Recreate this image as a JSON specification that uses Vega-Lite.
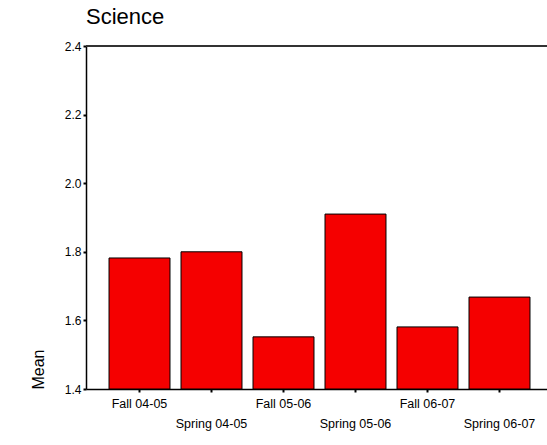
{
  "$schema": "https://vega.github.io/schema/vega-lite/v6.json",
  "autosize": "none",
  "padding": {"left": 86, "top": 46, "right": 0, "bottom": 56},
  "width": 461,
  "height": 343,
  "title": {"text": "Science", "anchor": "start", "frame": "group", "font": "Liberation Sans", "fontSize": 22, "fontWeight": "normal", "color": "black", "baseline": "bottom", "offset": 17, "dy": 28},
  "config": {"view": {"stroke": null}},
  "data": {"values": [
    {"term": "Fall 04-05", "mean": 1.782},
    {"term": "Spring 04-05", "mean": 1.8},
    {"term": "Fall 05-06", "mean": 1.552},
    {"term": "Spring 05-06", "mean": 1.91},
    {"term": "Fall 06-07", "mean": 1.581},
    {"term": "Spring 06-07", "mean": 1.668}
  ]},
  "layer": [
    {
      "mark": {"type": "bar", "fill": "#f50000", "stroke": "black", "strokeWidth": 1},
      "encoding": {
        "x": {"field": "term", "type": "nominal", "sort": null,
          "scale": {"paddingInner": 0.153, "paddingOuter": 0.278, "align": 0.575},
          "axis": {"title": null, "labelAngle": 0, "labelFont": "Liberation Sans", "labelFontSize": 12.5, "labelColor": "black",
            "labelPadding": {"condition": {"test": "indexof(datum.value, 'Spring') == 0", "value": 25}, "value": 5},
            "domainColor": "black", "domainWidth": 1.5, "tickColor": "black", "tickSize": 3, "tickWidth": 2}},
        "y": {"field": "mean", "type": "quantitative",
          "scale": {"domain": [1.4, 2.4], "nice": false, "zero": false},
          "axis": {"title": "Mean", "values": [1.4, 1.6, 1.8, 2.0, 2.2, 2.4], "format": ".1f", "grid": false,
            "labelFont": "Liberation Sans", "labelFontSize": 12, "labelColor": "black", "labelPadding": 2,
            "domainColor": "black", "domainWidth": 1.5, "tickColor": "black", "tickSize": 3, "tickWidth": 2,
            "titleFont": "Liberation Sans", "titleFontSize": 16, "titleFontWeight": "normal", "titleColor": "black",
            "titleAngle": -90, "titleAlign": "left", "titleBaseline": "alphabetic", "titleX": -43, "titleY": 343}},
        "y2": {"datum": 1.4}
      }
    },
    {
      "mark": {"type": "rule", "color": "#333333", "strokeWidth": 1.5},
      "encoding": {"y": {"datum": 2.4}}
    }
  ]
}
